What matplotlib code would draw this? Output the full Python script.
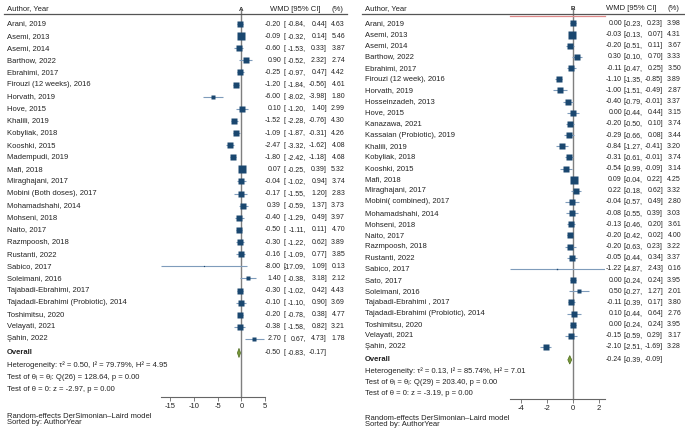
import matplotlib.pyplot as plt
import numpy as np
from matplotlib.lines import Line2D
from matplotlib.patches import Polygon
from matplotlib.transforms import blended_transform_factory

plt.rcParams['font.family'] = ['Liberation Sans', 'DejaVu Sans']
plt.rcParams['axes.unicode_minus'] = False

# ---- panel A data ----
a_names = ["Arani, 2019", "Asemi, 2013", "Asemi, 2014", "Barthow, 2022", "Ebrahimi, 2017",
           "Firouzi (12 weeks), 2016", "Horvath, 2019", "Hove, 2015", "Khalili, 2019",
           "Kobyliak, 2018", "Kooshki, 2015", "Madempudi, 2019", "Mafi, 2018",
           "Miraghajani, 2017", "Mobini (Both doses), 2017", "Mohamadshahi, 2014",
           "Mohseni, 2018", "Naito, 2017", "Razmpoosh, 2018", "Rustanti, 2022",
           "Sabico, 2017", "Soleimani, 2016", "Tajabadi-Ebrahimi, 2017",
           "Tajadadi-Ebrahimi (Probiotic), 2014", "Toshimitsu, 2020", "Velayati, 2021",
           "Şahin, 2022"]
a_est = [-0.20, -0.09, -0.60, 0.90, -0.25, -1.20, -6.00, 0.10, -1.52, -1.09, -2.47, -1.80,
         0.07, -0.04, -0.17, 0.39, -0.40, -0.50, -0.30, -0.16, -8.00, 1.40, -0.30, -0.10,
         -0.20, -0.38, 2.70]
a_lo = [-0.84, -0.32, -1.53, -0.52, -0.97, -1.84, -8.02, -1.20, -2.28, -1.87, -3.32, -2.42,
        -0.25, -1.02, -1.55, -0.59, -1.29, -1.11, -1.22, -1.09, -17.09, -0.38, -1.02, -1.10,
        -0.78, -1.58, 0.67]
a_hi = [0.44, 0.14, 0.33, 2.32, 0.47, -0.56, -3.98, 1.40, -0.76, -0.31, -1.62, -1.18,
        0.39, 0.94, 1.20, 1.37, 0.49, 0.11, 0.62, 0.77, 1.09, 3.18, 0.42, 0.90,
        0.38, 0.82, 4.73]
a_wt = [4.63, 5.46, 3.87, 2.74, 4.42, 4.61, 1.80, 2.99, 4.30, 4.26, 4.08, 4.68, 5.32, 3.74,
        2.83, 3.73, 3.97, 4.70, 3.89, 3.85, 0.13, 2.12, 4.43, 3.69, 4.77, 3.21, 1.78]
a_overall = (-0.50, -0.83, -0.17)
a_stats = ["Heterogeneity: τ² = 0.50, I² = 79.79%, H² = 4.95",
           "Test of θᵢ = θⱼ: Q(26) = 128.64, p = 0.00",
           "Test of θ = 0: z = -2.97, p = 0.00"]
a_ticks = [-15, -10, -5, 0, 5]

# ---- panel B data ----
b_names = ["Arani, 2019", "Asemi, 2013", "Asemi, 2014", "Barthow, 2022", "Ebrahimi, 2017",
           "Firouzi (12 week), 2016", "Horvath, 2019", "Hosseinzadeh, 2013", "Hove, 2015",
           "Kanazawa, 2021", "Kassaian (Probiotic), 2019", "Khalili, 2019", "Kobyliak, 2018",
           "Kooshki, 2015", "Mafi, 2018", "Miraghajani, 2017", "Mobini( combined), 2017",
           "Mohamadshahi, 2014", "Mohseni, 2018", "Naito, 2017", "Razmpoosh, 2018",
           "Rustanti, 2022", "Sabico, 2017", "Sato, 2017", "Soleimani, 2016",
           "Tajabadi-Ebrahimi , 2017", "Tajadadi-Ebrahimi (Probiotic), 2014",
           "Toshimitsu, 2020", "Velayati, 2021", "Şahin, 2022"]
b_est = [0.00, -0.03, -0.20, 0.30, -0.11, -1.10, -1.00, -0.40, 0.00, -0.20, -0.29, -0.84,
         -0.31, -0.54, 0.09, 0.22, -0.04, -0.08, -0.13, -0.20, -0.20, -0.05, -1.22, 0.00,
         0.50, -0.11, 0.10, 0.00, -0.15, -2.10]
b_lo = [-0.23, -0.13, -0.51, -0.10, -0.47, -1.35, -1.51, -0.79, -0.44, -0.50, -0.66, -1.27,
        -0.61, -0.99, -0.04, -0.18, -0.57, -0.55, -0.46, -0.42, -0.63, -0.44, -4.87, -0.24,
        -0.27, -0.39, -0.44, -0.24, -0.59, -2.51]
b_hi = [0.23, 0.07, 0.11, 0.70, 0.25, -0.85, -0.49, -0.01, 0.44, 0.10, 0.08, -0.41,
        -0.01, -0.09, 0.22, 0.62, 0.49, 0.39, 0.20, 0.02, 0.23, 0.34, 2.43, 0.24,
        1.27, 0.17, 0.64, 0.24, 0.29, -1.69]
b_wt = [3.98, 4.31, 3.67, 3.33, 3.50, 3.89, 2.87, 3.37, 3.15, 3.74, 3.44, 3.20, 3.74, 3.14,
        4.25, 3.32, 2.80, 3.03, 3.61, 4.00, 3.22, 3.37, 0.16, 3.95, 2.01, 3.80, 2.76, 3.95,
        3.17, 3.28]
b_overall = (-0.24, -0.39, -0.09)
b_stats = ["Heterogeneity: τ² = 0.13, I² = 85.74%, H² = 7.01",
           "Test of θᵢ = θⱼ: Q(29) = 203.40, p = 0.00",
           "Test of θ = 0: z = -3.19, p = 0.00"]
b_ticks = [-4, -2, 0, 2]

W, H = 685, 428
TXT = '#222222'
NAVY = '#1a476f'
CI = '#7f9cbb'
FS = 5.5
FN = 5.0

fig = plt.figure(figsize=(W / 100, H / 100), dpi=100)


def fx(px):
    return px / W


def fy(py):
    return 1 - py / H


def panel(names, est, lo, hi, wt, overall, stats, ticks, letter,
          x0, x1, left_px, right_px, row0, step, top_px, bot_px, cols, k, pink=False):
    n = len(names)
    ax = fig.add_axes([fx(x0), fy(bot_px), fx(x1 - x0), (bot_px - top_px) / H])
    ax.set_xlim(min(lo), max(max(hi), max(ticks)))
    ax.set_ylim((bot_px - row0) / step + 1, (top_px - row0) / step + 1)
    ax.patch.set_visible(False)
    for s in ['top', 'right', 'left']:
        ax.spines[s].set_visible(False)
    ax.spines['bottom'].set_color('#666666')
    ax.spines['bottom'].set_linewidth(0.8)
    ax.set_yticks([])
    ax.set_xticks(ticks)
    ax.tick_params(axis='x', length=3, width=0.6, color='#666666', labelsize=FS,
                   labelcolor=TXT, pad=1.5)
    ax.axvline(0, ymin=0, ymax=1.01, color='#7f7f7f', lw=1.0, clip_on=False, zorder=1)

    rows = np.arange(1, n + 1)
    ax.hlines(rows, lo, hi, color=CI, lw=0.8, zorder=2)
    for r, e, w in zip(rows, est, wt):
        ax.plot(e, r, 's', color=NAVY, ms=k * np.sqrt(w) * 0.72, mec='none', zorder=3)

    oe, ol, oh = overall
    yo = n + 1.15
    ax.add_patch(Polygon([[ol, yo], [oe, yo - 0.38], [oh, yo], [oe, yo + 0.38]],
                         closed=True, fc='#7a9a3a', ec='#4d6b1f', lw=0.5, zorder=3))

    tr = blended_transform_factory(fig.transFigure, ax.transData)
    xe, xb, xl, xh, xw, xhd, xpc = cols
    hy = (top_px - 5 - row0) / step + 1
    ax.text(fx(left_px + 3), hy, "Author, Year", transform=tr, fontsize=FS, color=TXT, va='center')
    ax.text(fx(xhd), hy, "WMD [95% CI]", transform=tr, fontsize=FS, color=TXT, va='center', ha='right')
    ax.text(fx(xpc), hy, "(%)", transform=tr, fontsize=FS, color=TXT, va='center', ha='right')
    ax.text(0, hy, letter, fontsize=4.5, color=TXT, va='center', ha='center', fontweight='bold')

    kw = dict(transform=tr, fontsize=FN, color=TXT, va='center')
    for r, nm, e, l, h, w in zip(rows, names, est, lo, hi, wt):
        ax.text(fx(left_px + 3), r, nm, transform=tr, fontsize=FS, color=TXT, va='center')
        ax.text(fx(xe), r, f"{e:.2f}", ha='right', **kw)
        ax.text(fx(xb), r, "[", ha='left', **kw)
        ax.text(fx(xl), r, f"{l:.2f},", ha='right', **kw)
        ax.text(fx(xh), r, f"{h:.2f}]", ha='right', **kw)
        ax.text(fx(xw), r, f"{w:.2f}", ha='right', **kw)

    ax.text(fx(left_px + 3), yo, "Overall", transform=tr, fontsize=FS, color=TXT,
            va='center', fontweight='bold')
    ax.text(fx(xe), yo, f"{oe:.2f}", ha='right', **kw)
    ax.text(fx(xb), yo, "[", ha='left', **kw)
    ax.text(fx(xl), yo, f"{ol:.2f},", ha='right', **kw)
    ax.text(fx(xh), yo, f"{oh:.2f}]", ha='right', **kw)
    for i, s in enumerate(stats):
        ax.text(fx(left_px + 3), n + 2.2 + i, s, transform=tr, fontsize=FS, color=TXT, va='center')

    fig.add_artist(Line2D([fx(left_px), fx(right_px)], [fy(top_px), fy(top_px)],
                          color='#555555', lw=0.9))
    if pink:
        fig.add_artist(Line2D([fx(x0), fx(x1)], [fy(top_px + 1.5), fy(top_px + 1.5)],
                              color='#e08a8a', lw=0.9))
    fig.text(fx(left_px + 3), fy(bot_px + 19), "Random-effects DerSimonian–Laird model",
             fontsize=FS, color=TXT, va='center')
    fig.text(fx(left_px + 3), fy(bot_px + 26), "Sorted by: AuthorYear",
             fontsize=FS, color=TXT, va='center')
    return ax


panel(a_names, a_est, a_lo, a_hi, a_wt, a_overall, a_stats, a_ticks, "A",
      160.5, 265, 4, 347, 24, 12.115, 14, 397,
      (281, 283, 306, 327, 345, 321, 343), 3.2)
panel(b_names, b_est, b_lo, b_hi, b_wt, b_overall, b_stats, b_ticks, "B",
      509.5, 604.5, 362, 685, 23.5, 11.155, 14, 399,
      (622, 623.5, 643, 663, 681, 656, 679), 3.45, pink=True)

fig.savefig("out.png", dpi=100)
